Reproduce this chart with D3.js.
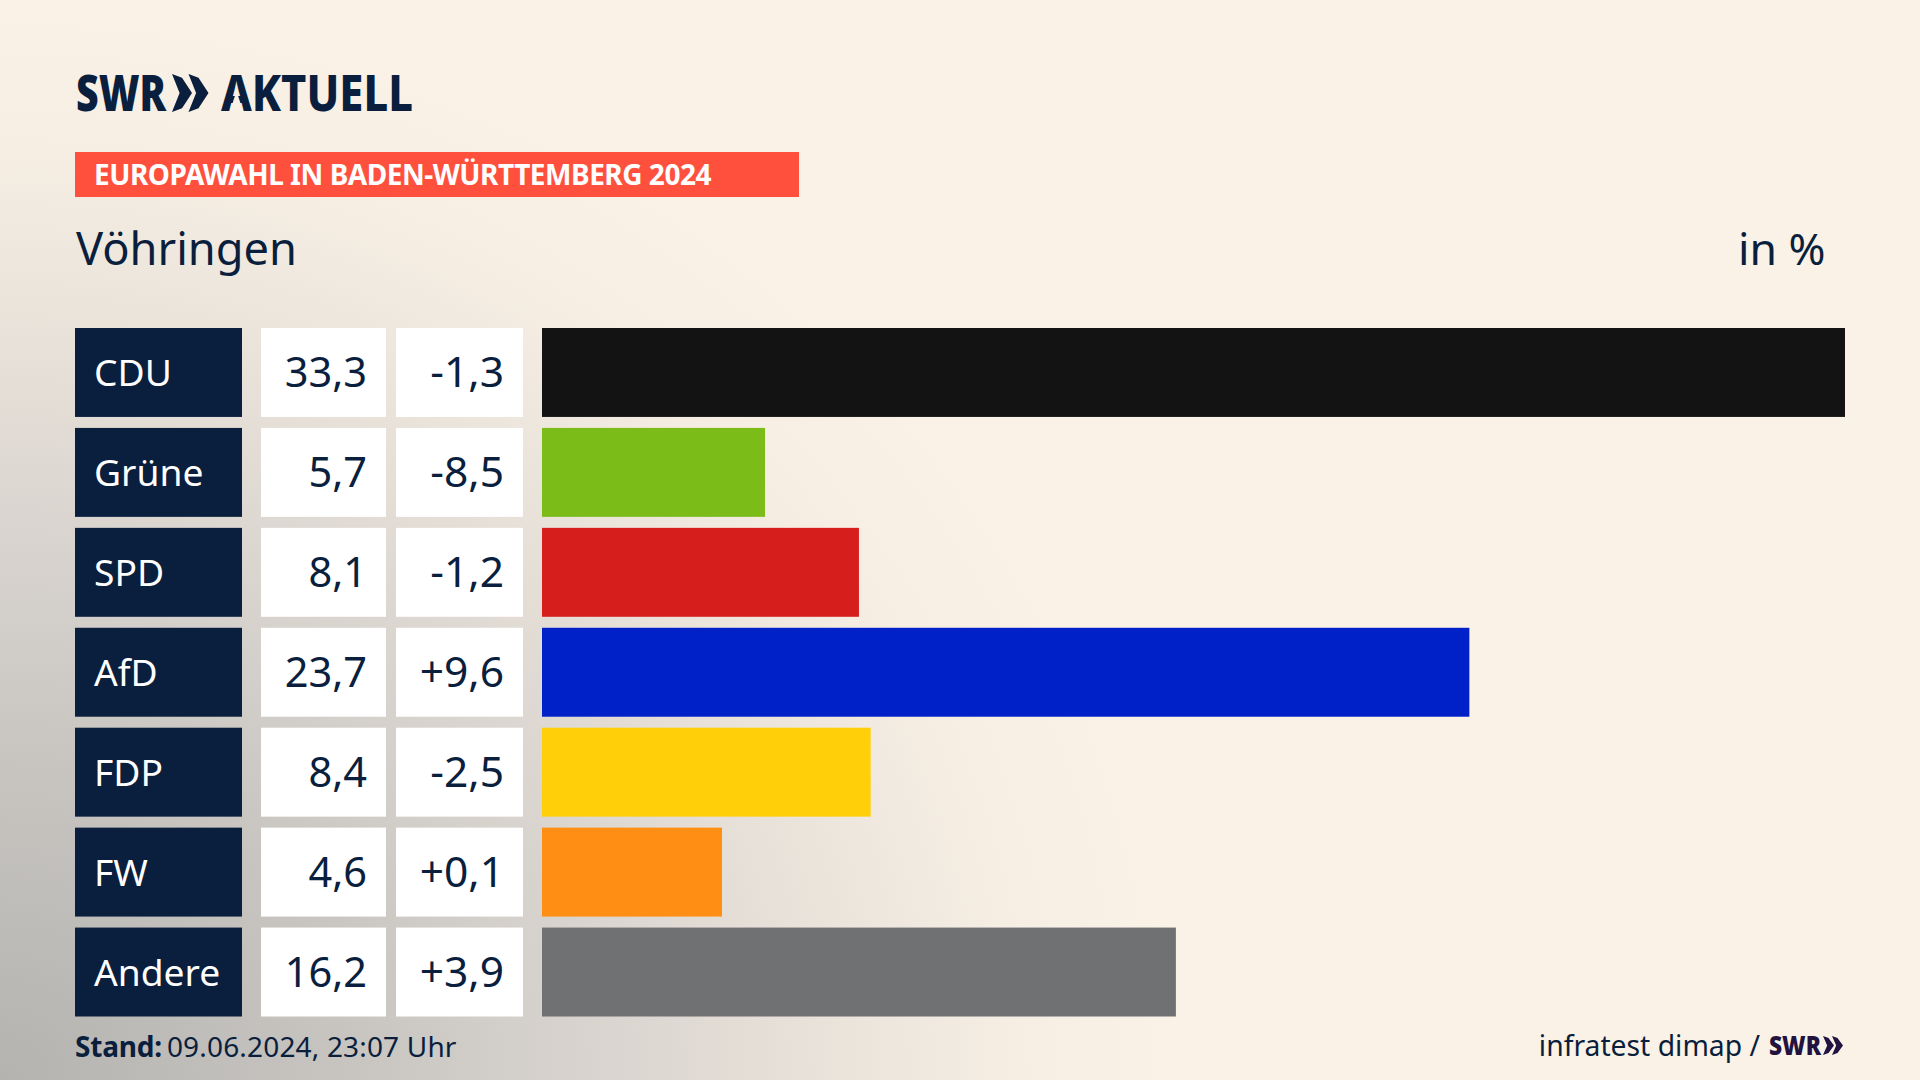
<!DOCTYPE html>
<html lang="de">
<head>
<meta charset="utf-8">
<title>Europawahl Vöhringen</title>
<script src="https://cdn.jsdelivr.net/npm/d3@7/dist/d3.min.js"></script>
<style>
html,body{margin:0;padding:0;background:#faf2e7;overflow:hidden}
svg{display:block}
text{font-family:"Noto Sans",sans-serif}
</style>
</head>
<body>
<svg id="chart" width="1920" height="1080"></svg>
<script>
const parties = ["CDU","Grüne","SPD","AfD","FDP","FW","Andere"];
const shares = [33.3,5.7,8.1,23.7,8.4,4.6,16.2];
const deltas = [-1.3,-8.5,-1.2,9.6,-2.5,0.1,3.9];
const colors = ["#131313","#7bbc19","#d61f1c","#0021c8","#ffd00a","#ff8f14","#707173"];
const banner = "EUROPAWAHL IN BADEN-WÜRTTEMBERG 2024";
const place = "Vöhringen";
const unit = "in %";
const standLabel = "Stand:";
const standValue = "09.06.2024, 23:07 Uhr";
const source = "infratest dimap /";

const navy = "#0a1e3d";
const cream = "#faf2e7";
const svg = d3.select("#chart");
const defs = svg.append("defs");

const glow = defs.append("radialGradient").attr("id","glow")
  .attr("gradientUnits","userSpaceOnUse").attr("cx",0).attr("cy",0).attr("r",1)
  .attr("gradientTransform","translate(0 1080) scale(1180 1080)");
[[0,"#b4b3b0"],[0.3,"#c8c5c1"],[0.55,"#dcd7d1"],[0.72,"#ebe4db"],[0.86,"#f6eee3"],[1,cream]]
  .forEach(([o,c])=>glow.append("stop").attr("offset",o).attr("stop-color",c));

svg.append("rect").attr("width",1920).attr("height",1080).attr("fill","url(#glow)");

// Scales
const y = d3.scaleBand().domain(parties).range([328,1016.5]).paddingInner(0.11).paddingOuter(0).align(0);
const x = d3.scaleLinear().domain([0,33.3]).range([542,1845]);
const fmt = v => d3.format(".1f")(Math.abs(v)).replace(".",",");
const fmtDelta = v => (v<0?"-":"+") + fmt(v);

function chevrons(g,x0,y0,h,w,step,fill){
  const path = d3.path();
  [0,1].forEach(i=>{
    const ox = x0 + i*step;
    path.moveTo(ox,y0); path.lineTo(ox+w*0.5,y0+h*0.1); path.lineTo(ox+w,y0+h/2);
    path.lineTo(ox+w*0.5,y0+h*0.9); path.lineTo(ox,y0+h); path.lineTo(ox+w*0.38,y0+h/2); path.closePath();
  });
  g.append("path").attr("d",path.toString()).attr("fill",fill);
}

// Header logo
const logo = svg.append("g").attr("fill",navy);
logo.append("text").attr("x",76).attr("y",110.5).attr("font-size",50).attr("font-weight",900)
  .attr("textLength",90).attr("lengthAdjust","spacingAndGlyphs").text("SWR");
chevrons(logo,172,74,38,20,16.5,navy);
logo.append("text").attr("x",221).attr("y",110.5).attr("font-size",50).attr("font-weight",800)
  .attr("textLength",192).attr("lengthAdjust","spacingAndGlyphs").text("AKTUELL");
// the wordmark's A has no crossbar
logo.append("path").attr("d","M236.5 91 L230 111 L243 111 Z").attr("fill",cream);

// Banner
svg.append("rect").attr("x",75).attr("y",152).attr("width",724).attr("height",45).attr("fill","#ff503e");
svg.append("text").attr("x",94).attr("y",185).attr("font-size",28).attr("font-weight",700)
  .attr("letter-spacing",-0.47).attr("fill","#fff").text(banner);

// Titles
svg.append("text").attr("x",76).attr("y",265).attr("font-size",45.2).attr("fill",navy).text(place);
svg.append("text").attr("x",1825.5).attr("y",265).attr("font-size",44.5).attr("text-anchor","end").attr("fill",navy).text(unit);

// Rows
const rows = svg.selectAll("g.row").data(parties).join("g").attr("class","row")
  .attr("transform",d=>`translate(0,${y(d)})`);
const h = y.bandwidth();
rows.append("rect").attr("x",75).attr("width",167).attr("height",h).attr("fill",navy);
rows.append("text").attr("x",94).attr("y",h/2+13.5).attr("font-size",37.2).attr("fill","#fff").text(d=>d);
rows.append("rect").attr("x",261).attr("width",125).attr("height",h).attr("fill","#fff");
rows.append("text").attr("x",367).attr("y",h/2+15).attr("font-size",41.5).attr("text-anchor","end").attr("fill",navy)
  .text((d,i)=>fmt(shares[i]));
rows.append("rect").attr("x",396).attr("width",127).attr("height",h).attr("fill","#fff");
rows.append("text").attr("x",504).attr("y",h/2+15).attr("font-size",42.5).attr("text-anchor","end").attr("fill",navy)
  .text((d,i)=>fmtDelta(deltas[i]));
rows.append("rect").attr("x",x(0)).attr("height",h)
  .attr("width",(d,i)=>x(shares[i])-x(0)).attr("fill",(d,i)=>colors[i]);

// Footer
const stand = svg.append("text").attr("x",75).attr("y",1057).attr("font-size",28).attr("fill",navy);
stand.append("tspan").attr("font-weight",700).attr("letter-spacing",-0.2).text(standLabel);
stand.append("tspan").attr("dx",5).attr("letter-spacing",0.17).text(standValue);
svg.append("text").attr("x",1760).attr("y",1056).attr("font-size",28.3).attr("text-anchor","end").attr("fill",navy).text(source);
svg.append("text").attr("x",1769).attr("y",1055).attr("font-size",27).attr("font-weight",900)
  .attr("textLength",52).attr("lengthAdjust","spacingAndGlyphs").attr("fill","#22123f").text("SWR");
chevrons(svg,1823,1036,19,11,9,"#22123f");
</script>
</body>
</html>
